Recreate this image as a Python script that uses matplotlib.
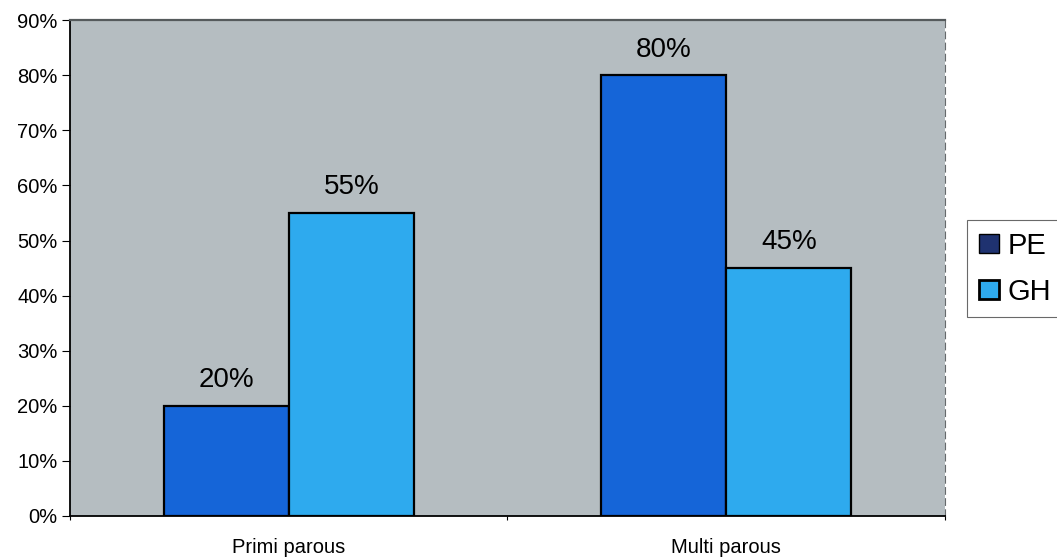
import matplotlib.pyplot as plt
import matplotlib.patches as mpatches
import numpy as np

categories = ['Primi parous', 'Multi parous']
pe = [20, 80]
gh = [55, 45]
series_names = ['PE', 'GH']
yticks = [0, 10, 20, 30, 40, 50, 60, 70, 80, 90]

pe_color = '#1565d8'
gh_color = '#2eaaee'
font = 'Liberation Sans'

fig = plt.figure(figsize=(10.57, 5.6), dpi=100)
ax = fig.add_axes([0.0662, 0.0786, 0.8278, 0.8854])
ax.set_facecolor('#b5bdc1')

x = np.arange(len(categories))
w = 0.286
b1 = ax.bar(x - w / 2, pe, w, color=pe_color, edgecolor='black', linewidth=1.6)
b2 = ax.bar(x + w / 2, gh, w, color=gh_color, edgecolor='black', linewidth=1.6)

# value labels above each bar
for bars, vals in ((b1, pe), (b2, gh)):
    for rect, v in zip(bars, vals):
        ax.text(rect.get_x() + rect.get_width() / 2, v + 3.4, f'{v}%',
                ha='center', va='baseline', fontsize=20, family=font)

ax.set_xlim(-0.5, 1.5)
ax.set_ylim(0, 90)
ax.set_yticks(yticks)
ax.set_yticklabels([f'{t}%' for t in yticks], fontsize=14.5, family=font)
ax.set_xticks(x)
ax.set_xticklabels(categories, fontsize=14.5, family=font)
ax.set_xticks([-0.5, 0.5, 1.5], minor=True)
ax.tick_params(axis='x', which='major', length=0, pad=16)
ax.tick_params(axis='x', which='minor', length=3, width=0.8)
ax.tick_params(axis='y', length=6, width=0.8, pad=3)

ax.spines['left'].set_linewidth(1.3)
ax.spines['bottom'].set_linewidth(1.3)
ax.spines['top'].set_color('#555a5c')
ax.spines['top'].set_linewidth(1.6)
ax.spines['right'].set_color('#666a6c')
ax.spines['right'].set_linestyle((0, (6, 4)))

handles = [mpatches.Patch(facecolor='#1f3270', edgecolor='black', label=series_names[0]),
           mpatches.Patch(facecolor=gh_color, edgecolor='black', linewidth=2, label=series_names[1])]
leg = fig.legend(handles=handles, loc='upper left', bbox_to_anchor=(967 / 1057, 1 - 220 / 560),
                 frameon=True, fancybox=False, edgecolor='#444444',
                 prop={'family': font, 'size': 21},
                 handlelength=0.68, handleheight=0.66, handletextpad=0.3,
                 borderpad=0.4, labelspacing=0.62, borderaxespad=0)
leg.get_frame().set_linewidth(0.8)

fig.savefig('out.png', dpi=100)
